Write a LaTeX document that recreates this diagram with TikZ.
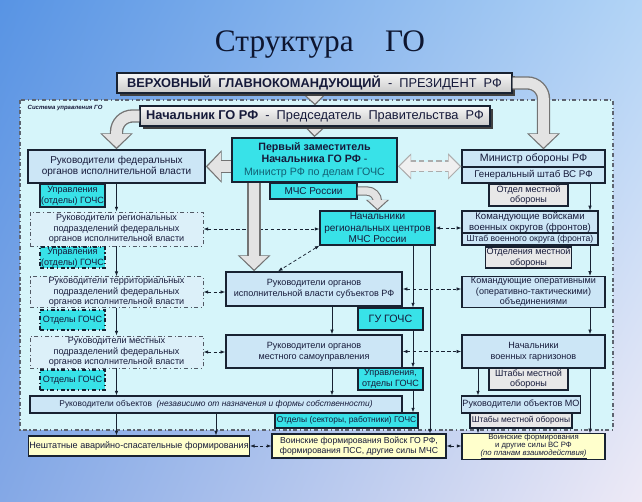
\documentclass[tikz,border=0pt]{standalone}
\usepackage{fontspec}
\setmainfont{Liberation Sans}
\newfontfamily\titlefont{Liberation Serif}
\usetikzlibrary{arrows.meta,positioning,calc,shadows,shadings}
\pgfdeclarelayer{behind}
\pgfsetlayers{behind,main}

\definecolor{ink}{RGB}{22,26,58}
\definecolor{edge}{RGB}{24,34,50}
\definecolor{framefill}{RGB}{214,245,250}
\definecolor{boxblue}{RGB}{204,230,246}
\definecolor{subblue}{RGB}{220,240,249}
\definecolor{gochscyan}{RGB}{56,226,232}
\definecolor{mogray}{RGB}{232,232,232}
\definecolor{formyellow}{RGB}{255,255,204}
\definecolor{mintext}{RGB}{18,96,116}
\definecolor{titleink}{RGB}{14,22,48}
\definecolor{bgul}{RGB}{88,148,228}
\definecolor{bgur}{RGB}{178,212,246}
\definecolor{bgll}{RGB}{132,168,230}
\definecolor{bglr}{RGB}{238,234,246}

\tikzset{
  wh/.style 2 args={minimum width=#1*0.75pt, minimum height=#2*0.75pt},
  basebox/.style={rectangle, inner sep=0.5pt, align=center, text=ink,
    font=\fontsize{6.8}{8}\selectfont},
  chiefbox/.style={basebox, draw=edge, line width=1pt, top color=gray!6, bottom color=gray!42,
    drop shadow={shadow xshift=2.2pt, shadow yshift=-2.2pt, fill=black!75, opacity=1},
    font=\fontsize{9.6}{11}\selectfont},
  mainbox/.style={basebox, draw=edge, line width=1.1pt, fill=boxblue},
  subbox/.style={basebox, draw=edge!75, line width=0.7pt, dash dot, fill=subblue},
  gochsbox/.style={basebox, draw=edge, line width=0.8pt, fill=gochscyan},
  mobox/.style={basebox, draw=edge, line width=0.8pt, fill=mogray},
  formbox/.style={basebox, draw=edge, line width=0.8pt, fill=formyellow},
  feed/.style={draw=edge, line width=0.5pt, -{Latex[length=3.5pt,width=2.6pt]}},
  coop/.style={draw=edge, line width=0.55pt, dash pattern=on 2.5pt off 1.8pt,
    {Latex[length=3.5pt,width=2.6pt]}-{Latex[length=3.5pt,width=2.6pt]}},
  fatarrow/.style={line width=10pt, draw=black!55, -{Triangle[length=12pt,width=24pt]}},
  fatcore/.style={line width=8pt, draw=gray!22, shorten >=1.4pt, -{Triangle[length=10pt,width=20.5pt]}},
  slimarrow/.style={line width=7pt, draw=black!55, -{Triangle[length=8pt,width=17pt]}},
  slimcore/.style={line width=5.4pt, draw=gray!22, shorten >=1.2pt, -{Triangle[length=6.6pt,width=14pt]}},
  dfat/.style={line width=9pt, draw=gray!65, dash pattern=on 4pt off 2.5pt,
    {Triangle[length=10pt,width=19pt]}-{Triangle[length=10pt,width=19pt]}},
  dfatcore/.style={line width=7pt, draw=gray!12, shorten <=1.3pt, shorten >=1.3pt,
    {Triangle[length=8.3pt,width=16pt]}-{Triangle[length=8.3pt,width=16pt]}}
}

\begin{document}
\begin{tikzpicture}[x=0.75pt, y=-0.75pt]
\useasboundingbox (0,0) rectangle (642,502);
\begin{pgfonlayer}{behind}
	\shade[upper left=bgul, upper right=bgur, lower left=bgll, lower right=bglr] (0,0) rectangle (642,502);
	\draw[draw=edge!70, line width=0.8pt, dash dot, fill=framefill] (20,100) rectangle (613,430);
\end{pgfonlayer}

\node (title) [font=\titlefont\fontsize{23.5}{26}\selectfont, text=titleink] at (320,45) {Структура\quad ГО};
\node (sys) [anchor=west, text=ink, font=\fontsize{4.5}{5}\selectfont\bfseries\itshape] at (23,108) {Система управления ГО};

% top of the structure
\node (pres) [chiefbox, wh={395}{20}] at (314.5,83) {\textbf{ВЕРХОВНЫЙ\ \ ГЛАВНОКОМАНДУЮЩИЙ}\ \ -\ \ ПРЕЗИДЕНТ\ \ РФ};
\node (chief) [chiefbox, wh={350}{20}] at (315,116) {\textbf{Начальник ГО РФ}\ \ -\ \ Председатель\ \ Правительства\ \ РФ};
\node (deputy) [gochsbox, line width=1.3pt, wh={165}{44}, font=\fontsize{8}{9.6}\selectfont] at (314.5,160)
	{\textbf{Первый заместитель}\\\textbf{Начальника ГО РФ} -\\{\color{mintext}Министр РФ по делам ГОЧС}};
\node (mchs) [gochsbox, wh={87}{16}, font=\fontsize{7.5}{9}\selectfont] at (313.5,191) {МЧС России};
\node (regc) [gochsbox, wh={115}{34}, font=\fontsize{7.5}{8.6}\selectfont] at (377.5,228) {Начальники\\региональных центров\\МЧС России};

% federal bodies
\node (fed) [mainbox, wh={177}{33}, font=\fontsize{7.5}{8.8}\selectfont] at (116.5,166.5) {Руководители федеральных\\органов исполнительной власти};
\node (ug1) [gochsbox, wh={65}{23}] at (72.5,195.5) {Управления\\(отделы) ГОЧС};
\node (regfed) [subbox, wh={173}{34}] at (116.5,229) {Руководители региональных\\подразделений федеральных\\органов исполнительной власти};
\node (ug2) [gochsbox, dash dot, wh={65}{21}] at (72.5,257.5) {Управления\\(отделы) ГОЧС};
\node (terrfed) [subbox, wh={173}{30}] at (116.5,292) {Руководители территориальных\\подразделений федеральных\\органов исполнительной власти};
\node (og1) [gochsbox, dash dot, wh={65}{20}] at (72.5,320) {Отделы ГОЧС};
\node (locfed) [subbox, wh={173}{32}] at (116.5,352) {Руководители местных\\подразделений федеральных\\органов исполнительной власти};
\node (og2) [gochsbox, dash dot, wh={65}{20}] at (72.5,380) {Отделы ГОЧС};
\node (obj) [mainbox, line width=0.8pt, wh={372}{17}, font=\fontsize{6.3}{7}\selectfont] at (216,404.5)
	{Руководители объектов\ \ \textit{(независимо от назначения и формы собственности)}};
\node (osect) [gochsbox, wh={143}{15}, font=\fontsize{6.3}{7}\selectfont] at (346.5,420.5) {Отделы (секторы, работники) ГОЧС};

% subjects and local government
\node (subj) [mainbox, wh={176}{34}] at (314,289) {Руководители органов\\исполнительной власти субъектов РФ};
\node (gu) [gochsbox, wh={65}{22}, font=\fontsize{8}{9}\selectfont] at (390.5,319) {ГУ ГОЧС};
\node (locgov) [mainbox, wh={176}{33}] at (314,351.5) {Руководители органов\\местного самоуправления};
\node (uo) [gochsbox, wh={65}{22}] at (390.5,379) {Управления,\\отделы ГОЧС};

% defence
\node (minob) [mainbox, line width=0.9pt, wh={143}{17}, font=\fontsize{8}{9}\selectfont] at (533.5,158.5) {Министр обороны РФ};
\node (genst) [mainbox, line width=0.9pt, wh={143}{16}, font=\fontsize{7.3}{8}\selectfont] at (533.5,175) {Генеральный штаб ВС РФ};
\node (otdmo) [mobox, wh={79}{22}] at (528.5,195) {Отдел местной\\обороны};
\node (vo) [mainbox, line width=0.9pt, wh={136}{22}, font=\fontsize{7.2}{8.2}\selectfont] at (530,222) {Командующие войсками\\военных округов (фронтов)};
\node (shtvo) [mainbox, line width=0.9pt, wh={136}{12}, font=\fontsize{6.5}{7}\selectfont] at (530,239) {Штаб военного округа (фронта)};
\node (otd2) [mobox, wh={79}{21}] at (528.5,257.5) {Отделения местной\\обороны};
\node (oper) [mainbox, wh={143}{30}] at (533.5,292) {Командующие оперативными\\(оперативно-тактическими)\\объединениями};
\node (garn) [mainbox, wh={143}{33}] at (533.5,351.5) {Начальники\\военных гарнизонов};
\node (shtmo) [mobox, wh={79}{22}] at (528.5,379) {Штабы местной\\обороны};
\node (objmo) [mainbox, line width=0.8pt, wh={118}{17}] at (521,404.5) {Руководители объектов МО};
\node (shtmo2) [mobox, wh={102}{15}, font=\fontsize{6.3}{7}\selectfont] at (521,420.5) {Штабы местной обороны};

% forces
\node (nesht) [formbox, wh={218}{20}] at (139,446) {Нештатные аварийно-спасательные формирования};
\node (voigo) [formbox, wh={174}{24}, font=\fontsize{6.5}{7.4}\selectfont] at (359,446) {Воинские формирования Войск ГО РФ,\\формирования ПСС, другие силы МЧС};
\node (voivs) [formbox, inner sep=0pt, wh={143}{23}, font=\fontsize{5.8}{5.9}\selectfont] at (533.5,446.5) {Воинские формирования\\и другие силы ВС РФ\\\underline{\textit{(по планам взаимодействия)}}};

\coordinate (cx) at (332,0);
\coordinate (gx) at (413,0);
\coordinate (hx) at (430,0);
\coordinate (mx) at (478,0);
\coordinate (rx) at (590,0);
\coordinate (fx) at ($(deputy.south west)+(23,0)$);

% subordination
\draw[feed] (fed.south) -- (regfed.north);
\draw[feed] (regfed.south) -- (terrfed.north);
\draw[feed] (terrfed.south) -- (locfed.north);
\draw[feed] (locfed.south) -- (locfed.south |- obj.north);
\draw[feed] (locfed.south |- obj.south) -- (locfed.south |- nesht.north);
\draw[feed] (obj.south) -- (obj.south |- nesht.north);
\draw[feed] (cx |- subj.south) -- (cx |- locgov.north);
\draw[feed] (cx |- locgov.south) -- (cx |- obj.north);
\draw[feed] (gx |- regc.south) -- (gx |- gu.north);
\draw[feed] (gx |- gu.south) -- (gx |- uo.north);
\draw[feed] (gx |- uo.south) -- (gx |- osect.north);
\draw[feed] (hx |- regc.south) -- (hx |- voigo.north);
\draw[feed] (rx |- genst.south) -- (rx |- vo.north);
\draw[feed] (rx |- shtvo.south) -- (rx |- oper.north);
\draw[feed] (rx |- oper.south) -- (rx |- garn.north);
\draw[feed] (rx |- garn.south) -- (rx |- voivs.north);
\draw[feed] (mx |- garn.south) -- (mx |- objmo.north);
\draw[feed] (mx |- shtmo2.south) -- (mx |- voivs.north);

% cooperation
\draw[coop] (regfed.east) -- (regfed.east -| regc.west);
\draw[coop] (regc.east) -- (regc.east -| vo.west);
\draw[coop] (terrfed.east) -- (terrfed.east -| subj.west);
\draw[coop] (subj.east) -- (subj.east -| oper.west);
\draw[coop] (locfed.east) -- (locfed.east -| locgov.west);
\draw[coop] (locgov.east) -- (locgov.east -| garn.west);
\draw[coop] (nesht.east) -- (nesht.east -| voigo.west);
\draw[coop] (voigo.east) -- (voigo.east -| voivs.west);
\draw[coop] (regc.south west) -- ($(subj.north)+(-36,0)$);

% block arrows
\begin{pgfonlayer}{behind}
	\draw[fatarrow] (pres.center) -- (chief.north);
	\draw[fatcore] (pres.center) -- (chief.north);
	\draw[fatarrow] (chief.center) -- (deputy.north);
	\draw[fatcore] (chief.center) -- (deputy.north);
\end{pgfonlayer}
\draw[fatarrow, rounded corners=12pt] (pres.east) -| ($(minob.north)+(10,0)$);
\draw[fatcore, rounded corners=12pt] (pres.east) -| ($(minob.north)+(10,0)$);
\draw[fatarrow, rounded corners=12pt] (chief.west) -| (fed.north);
\draw[fatcore, rounded corners=12pt] (chief.west) -| (fed.north);
\draw[fatarrow] (deputy.west |- fed.east) -- (fed.east);
\draw[fatcore] (deputy.west |- fed.east) -- (fed.east);
\draw[fatarrow] (fx) -- (fx |- subj.north);
\draw[fatcore] (fx) -- (fx |- subj.north);
\draw[slimarrow, rounded corners=8pt] (mchs.east) -| (regc.north);
\draw[slimcore, rounded corners=8pt] (mchs.east) -| (regc.north);
\draw[dfat] (deputy.east |- genst.north) -- (genst.north -| minob.west);
\draw[dfatcore] (deputy.east |- genst.north) -- (genst.north -| minob.west);
\end{tikzpicture}
\end{document}
